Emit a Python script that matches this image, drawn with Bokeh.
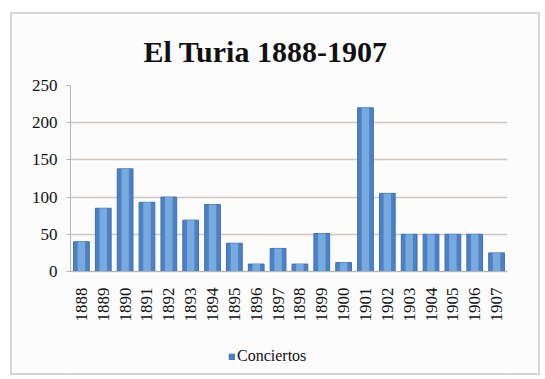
from bokeh.plotting import figure
from bokeh.models import ColumnDataSource, Legend, LegendItem, FactorRange
from bokeh.embed import file_html
from bokeh.resources import INLINE
from math import pi

years = ["1888", "1889", "1890", "1891", "1892", "1893", "1894", "1895", "1896", "1897",
         "1898", "1899", "1900", "1901", "1902", "1903", "1904", "1905", "1906", "1907"]
conciertos = [40, 85, 138, 93, 100, 69, 90, 38, 10, 31,
              10, 51, 12, 220, 105, 50, 50, 50, 50, 25]
y_ticks = [0, 50, 100, 150, 200, 250]
title_text = "El Turia 1888-1907"
series_name = "Conciertos"

src = ColumnDataSource(data=dict(year=years, value=conciertos))

# frame extends below zero so the legend can sit inside it under the year labels
p = figure(x_range=FactorRange(*years), y_range=(-134.4, 250),
           frame_width=437, frame_height=286,
           min_border_left=58, min_border_right=31, min_border_top=69, min_border_bottom=2,
           output_backend="svg", toolbar_location=None,
           background_fill_color="#fcfcfc", border_fill_color="#fcfcfc",
           styles={"margin-left": "10px", "margin-top": "12px",
                   "border": "2px solid #d6d6d6"})

p.title.text = title_text
p.title.text_font = "Liberation Serif"
p.title.text_font_style = "bold"
p.title.text_font_size = "30px"
p.title.text_color = "#111111"
p.title.align = "left"
p.title.offset = 73
p.title.standoff = 36

r = p.vbar(x="year", top="value", width=0.72, source=src,
           fill_color="#4c82c5", line_color="#3f70b0", line_width=1)
p.vbar(x="year", top="value", width=0.34, source=src,
       fill_color="#8dbbe9", fill_alpha=0.7, line_color=None)

p.outline_line_color = None
p.xgrid.grid_line_color = None
p.ygrid.grid_line_color = "#cfc6c0"
p.ygrid.grid_line_width = 1.5
p.yaxis.ticker = y_ticks
p.yaxis.bounds = (0, 250)
p.yaxis.axis_line_color = "#b5b5b5"
p.yaxis.major_tick_line_color = "#b5b5b5"
p.yaxis.minor_tick_line_color = None
p.yaxis.major_tick_in = 0
p.yaxis.major_tick_out = 4
p.xaxis.fixed_location = 0
p.xaxis.axis_line_color = "#b5b5b5"
p.xaxis.major_tick_line_color = None
p.xaxis.major_label_orientation = pi / 2
for ax in (p.xaxis[0], p.yaxis[0]):
    ax.major_label_text_font = "Liberation Serif"
    ax.major_label_text_font_size = "17px"
    ax.major_label_text_color = "#111111"
p.yaxis.major_label_standoff = 9
p.xaxis.major_label_standoff = 10

legend = Legend(items=[LegendItem(label=series_name, renderers=[r])],
                location=(158, 6), orientation="horizontal",
                border_line_color=None, background_fill_alpha=0,
                glyph_width=7, glyph_height=7, label_standoff=2, padding=0, margin=0)
legend.label_text_font = "Liberation Serif"
legend.label_text_font_size = "16px"
legend.label_text_color = "#111111"
p.add_layout(legend, "center")

open("out.html", "w").write(file_html(p, INLINE))
